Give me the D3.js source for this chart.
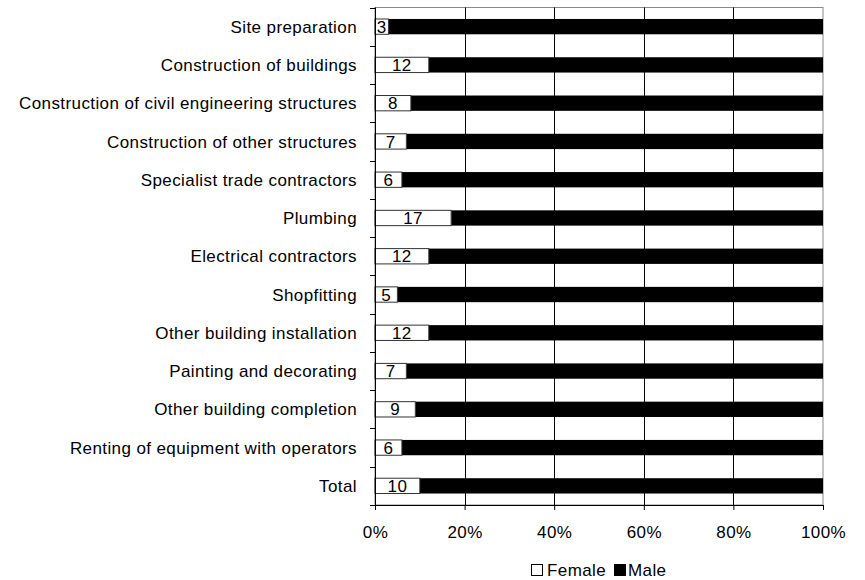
<!DOCTYPE html>
<html>
<head>
<meta charset="utf-8">
<script src="https://cdn.jsdelivr.net/npm/d3@7"></script>
<style>
  body { margin: 0; background: #fff; }
  text { font-family: "Liberation Sans", Arial, sans-serif; letter-spacing: 0.4px; }
</style>
</head>
<body>
<div id="chart"></div>
<script>
var w = 865;
var h = 580;

var categories = ["Site preparation", "Construction of buildings",
    "Construction of civil engineering structures", "Construction of other structures",
    "Specialist trade contractors", "Plumbing", "Electrical contractors", "Shopfitting",
    "Other building installation", "Painting and decorating", "Other building completion",
    "Renting of equipment with operators", "Total"];
var female = [3, 12, 8, 7, 6, 17, 12, 5, 12, 7, 9, 6, 10];
var male = female.map(function (d) { return 100 - d; });
var xTicks = [0, 20, 40, 60, 80, 100];
var seriesNames = ["Female", "Male"];

var fontSize = 17;
var plotLeft = 375, plotRight = 823, plotTop = 7.5, plotBottom = 505;

var svg = d3.select("#chart")
    .append("svg")
    .attr("width", w)
    .attr("height", h);

var xScale = d3.scaleLinear().domain([0, 100]).range([plotLeft, plotRight]);
var yScale = d3.scaleBand().domain(categories).range([plotTop, plotBottom]).paddingInner(0.6).paddingOuter(0.3);

// plot border (gray) and gridlines
svg.append("rect")
    .attr("x", plotLeft).attr("y", plotTop)
    .attr("width", plotRight - plotLeft).attr("height", plotBottom - plotTop)
    .attr("fill", "none").attr("stroke", "#888").attr("stroke-width", 1);

svg.selectAll(".grid")
    .data(xTicks.slice(1, -1))
    .enter().append("line")
    .attr("x1", function (d) { return Math.round(xScale(d)) + 0.5; })
    .attr("x2", function (d) { return Math.round(xScale(d)) + 0.5; })
    .attr("y1", plotTop).attr("y2", plotBottom)
    .attr("stroke", "#000").attr("stroke-width", 1);

// bars
var rows = categories.map(function (c, i) { return { cat: c, f: female[i], m: male[i] }; });

svg.selectAll(".male")
    .data(rows)
    .enter().append("rect")
    .attr("x", function (d) { return xScale(d.f); })
    .attr("y", function (d) { return yScale(d.cat); })
    .attr("width", function (d) { return xScale(100) - xScale(d.f); })
    .attr("height", yScale.bandwidth())
    .attr("fill", "#000");

svg.selectAll(".female")
    .data(rows)
    .enter().append("rect")
    .attr("x", xScale(0))
    .attr("y", function (d) { return yScale(d.cat); })
    .attr("width", function (d) { return xScale(d.f) - xScale(0); })
    .attr("height", yScale.bandwidth())
    .attr("fill", "#fff").attr("stroke", "#333").attr("stroke-width", 1);

svg.selectAll(".lbl")
    .data(rows)
    .enter().append("text")
    .attr("x", function (d) { return (xScale(0) + xScale(d.f)) / 2; })
    .attr("y", function (d) { return yScale(d.cat) + yScale.bandwidth() / 2; })
    .attr("dy", "0.36em")
    .attr("text-anchor", "middle")
    .attr("font-size", fontSize)
    .text(function (d) { return d.f; });

// x axis
var xAxis = d3.axisBottom(xScale)
    .tickValues(xTicks)
    .tickSize(5)
    .tickPadding(16)
    .tickFormat(function (d) { return d + "%"; });

var gx = svg.append("g")
    .attr("transform", "translate(0," + plotBottom + ")")
    .call(xAxis);
gx.select(".domain").attr("stroke", "#000");
gx.selectAll("text").attr("font-size", fontSize).attr("fill", "#000")
    .style("font-family", "Liberation Sans, Arial, sans-serif");

// y axis: line with ticks at band boundaries
var yAxis = svg.append("g");
yAxis.append("line")
    .attr("x1", plotLeft + 0.5).attr("x2", plotLeft + 0.5)
    .attr("y1", plotTop).attr("y2", plotBottom + 5)
    .attr("stroke", "#000");
var bounds = d3.range(categories.length + 1).map(function (i) {
    return plotTop + (plotBottom - plotTop) * i / categories.length;
});
yAxis.selectAll(".ytick")
    .data(bounds)
    .enter().append("line")
    .attr("x1", plotLeft - 5).attr("x2", plotLeft)
    .attr("y1", function (d) { return Math.round(d) + 0.5; })
    .attr("y2", function (d) { return Math.round(d) + 0.5; })
    .attr("stroke", "#000");

yAxis.selectAll(".ylabel")
    .data(categories)
    .enter().append("text")
    .attr("x", 357)
    .attr("y", function (d) { return yScale(d) + yScale.bandwidth() / 2; })
    .attr("dy", "0.36em")
    .attr("text-anchor", "end")
    .attr("font-size", fontSize)
    .text(function (d) { return d; });

// legend
var legend = svg.append("g").attr("transform", "translate(531,576)");
legend.append("rect").attr("x", 0.5).attr("y", -11.5).attr("width", 11).attr("height", 11)
    .attr("fill", "#fff").attr("stroke", "#000");
legend.append("text").attr("x", 16).attr("y", 0).attr("font-size", fontSize).text(seriesNames[0]);
legend.append("rect").attr("x", 83.5).attr("y", -11.5).attr("width", 11).attr("height", 11)
    .attr("fill", "#000").attr("stroke", "#000");
legend.append("text").attr("x", 97).attr("y", 0).attr("font-size", fontSize).text(seriesNames[1]);
</script>
</body>
</html>
